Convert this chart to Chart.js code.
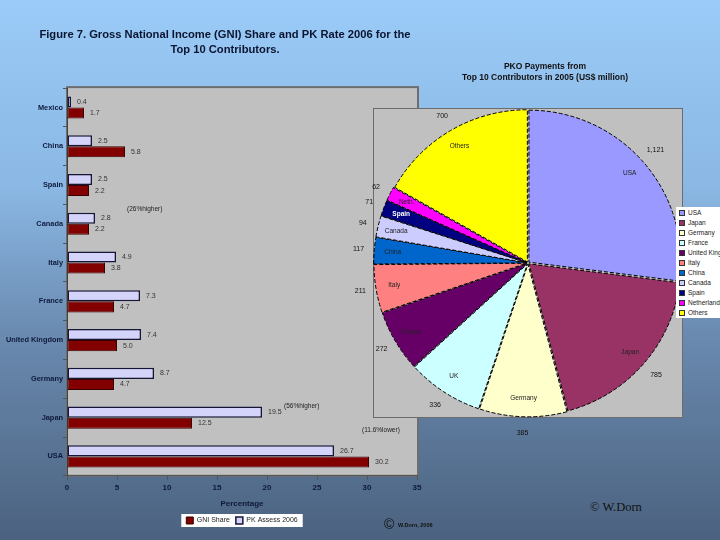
<!DOCTYPE html>
<html>
<head>
<meta charset="utf-8">
<script src="https://cdn.jsdelivr.net/npm/chart.js@4.4.1/dist/chart.umd.min.js"></script>
<style>
  html, body { margin: 0; padding: 0; }
  body {
    width: 720px; height: 540px; overflow: hidden; position: relative;
    background: linear-gradient(to bottom, #9bcbf8 0%, #8ab7e3 35%, #6a8ab0 62%, #4b627f 100%);
    font-family: 'Liberation Sans', Arial, sans-serif;
  }
  #barChart { position: absolute; left: 0; top: 0; }
  #pieBox {
    position: absolute; left: 373px; top: 108px; width: 308px; height: 308px;
    background: #c0c0c0; border: 1px solid #6c6c6c;
  }
  #pieChart { position: absolute; left: 353px; top: 98px; }
  #pieTitle {
    position: absolute; left: 445px; top: 61px; width: 200px;
    text-align: center; font-size: 8.5px; font-weight: bold; line-height: 10.5px; color: #111;
  }
  #pieLegend {
    position: absolute; left: 676px; top: 207px; width: 64px; height: 111px;
    background: #fff; font-size: 6.5px; color: #222;
  }
  #pieLegend div { position: absolute; left: 3px; white-space: nowrap; height: 10px; line-height: 10px; }
  #pieLegend span { display: inline-block; width: 4px; height: 4px; border: 1px solid #333; margin-right: 3px; vertical-align: middle; }
  .credit { position: absolute; color: #111; }
</style>
</head>
<body>
<canvas id="barChart" width="450" height="540"></canvas>
<div id="pieBox"></div>
<canvas id="pieChart" width="367" height="342"></canvas>
<div id="pieTitle">PKO Payments from<br>Top 10 Contributors in 2005 (US$ million)</div>
<div id="pieLegend"></div>
<div class="credit" style="left:590px; top:500px; font-family:'Liberation Serif','DejaVu Serif',serif; font-size:12.5px;">© W.Dorn</div>
<div class="credit" style="left:384px; top:516px; font-size:14px;">©</div>
<div class="credit" style="left:398px; top:522px; font-size:5.5px; font-weight:bold;">W.Dorn, 2006</div>

<script>
// bar chart data (percentages)
const categories = ['Mexico', 'China', 'Spain', 'Canada', 'Italy', 'France', 'United Kingdom', 'Germany', 'Japan', 'USA'];
const pkAssess2006 = [0.4, 2.5, 2.5, 2.8, 4.9, 7.3, 7.4, 8.7, 19.5, 26.7];
const gniShare = [1.7, 5.8, 2.2, 2.2, 3.8, 4.7, 5.0, 4.7, 12.5, 30.2];
const xTicks = [0, 5, 10, 15, 20, 25, 30, 35];

// notes next to the bars: [value, category index]
const noteTexts = ['(26%higher)', '(56%higher)', '(11.6%lower)'];
const noteAnchors = [[6.0, 2.62], [21.7, 7.7], [29.5, 8.33]];

// pie data (US$ million)
const pieLabels = ['USA', 'Japan', 'Germany', 'France', 'United Kingdom', 'Italy', 'China', 'Canada', 'Spain', 'Netherlands', 'Others'];
const pieTags = ['USA', 'Japan', 'Germany', 'UK', 'France', 'Italy', 'China', 'Canada', 'Spain', 'Neth.', 'Others'];
const piePayments = [1121, 785, 385, 336, 272, 211, 117, 94, 71, 62, 700];
const pieColors = ['#9999ff', '#993366', '#ffffcc', '#ccffff', '#660066', '#ff8080', '#0066cc', '#ccccff', '#000080', '#ff00ff', '#ffff00'];

Chart.defaults.font.family = "'Liberation Sans', Arial, sans-serif";

const barExtras = {
    id: 'barExtras',
    afterLayout(chart) {
        // the figure title sits centred over the whole left panel, not the canvas
        const t = chart.titleBlock;
        t.left = 33;
        t.right = 417;
        t.width = 384;
    },
    beforeDraw(chart) {
        const { ctx, chartArea: a } = chart;
        ctx.save();
        ctx.fillStyle = '#c0c0c0';
        ctx.fillRect(a.left, a.top, a.right - a.left, a.bottom - a.top);
        ctx.strokeStyle = '#6e6e6e';
        ctx.lineWidth = 2;
        ctx.strokeRect(a.left, a.top - 1, a.right - a.left + 1, a.bottom - a.top + 1);

        // white box behind the legend
        const boxes = chart.legend.legendHitBoxes;
        if (boxes && boxes.length) {
            const left = Math.min(...boxes.map(b => b.left)) - 5;
            const right = Math.max(...boxes.map(b => b.left + b.width)) + 5;
            const top = boxes[0].top - 3;
            ctx.fillStyle = '#ffffff';
            ctx.fillRect(left, top, right - left, boxes[0].height + 6);
        }
        ctx.restore();
    },
    afterDatasetsDraw(chart) {
        const { ctx, scales } = chart;
        ctx.save();
        ctx.font = "7px 'Liberation Sans', Arial, sans-serif";
        ctx.fillStyle = '#333';
        ctx.textBaseline = 'middle';
        chart.data.datasets.forEach((ds, i) => {
            chart.getDatasetMeta(i).data.forEach((bar, j) => {
                ctx.fillText(ds.data[j].toFixed(1), bar.x + 6, bar.y);
            });
        });
        // annotations
        ctx.textAlign = 'left';
        ctx.fillStyle = '#222';
        ctx.font = "6.5px 'Liberation Sans', Arial, sans-serif";
        noteTexts.forEach((t, i) => {
            ctx.fillText(t, scales.x.getPixelForValue(noteAnchors[i][0]), scales.y.getPixelForValue(noteAnchors[i][1]));
        });
        ctx.restore();
    }
};

new Chart(document.getElementById('barChart'), {
    type: 'bar',
    data: {
        labels: categories,
        datasets: [
            {
                label: 'PK Assess 2006',
                data: pkAssess2006,
                backgroundColor: '#d4d4fa',
                borderColor: '#161638',
                borderWidth: 1.5,
                borderSkipped: false,
                categoryPercentage: 0.57,
                barPercentage: 1
            },
            {
                label: 'GNI Share',
                data: gniShare,
                backgroundColor: '#820000',
                borderColor: '#3a0000',
                borderWidth: 1,
                borderSkipped: false,
                categoryPercentage: 0.57,
                barPercentage: 1
            }
        ]
    },
    options: {
        indexAxis: 'y',
        responsive: false,
        animation: false,
        devicePixelRatio: 1,
        layout: { padding: { left: 0, right: 33, top: 0, bottom: 6 } },
        plugins: {
            title: {
                display: true,
                text: ['Figure 7. Gross National Income (GNI) Share and PK Rate 2006 for the', 'Top 10 Contributors.'],
                color: '#0b1530',
                font: { size: 11.2, weight: 'bold', lineHeight: 1.3 },
                padding: { top: 28, bottom: 31 }
            },
            legend: {
                position: 'bottom',
                fullSize: false,
                reverse: true,
                labels: {
                    boxWidth: 7,
                    boxHeight: 7,
                    padding: 6,
                    color: '#222',
                    font: { size: 7 }
                }
            },
            tooltip: { enabled: false }
        },
        scales: {
            x: {
                min: 0,
                max: 35,
                afterBuildTicks: scale => { scale.ticks = xTicks.map(v => ({ value: v })); },
                grid: { drawOnChartArea: false, tickLength: 4, color: '#555' },
                border: { color: '#555' },
                ticks: { color: '#101838', font: { size: 8, weight: 'bold' }, padding: 3 },
                title: {
                    display: true,
                    text: 'Percentage',
                    color: '#101838',
                    font: { size: 8, weight: 'bold' },
                    padding: { top: 4, bottom: 2 }
                }
            },
            y: {
                grid: { drawOnChartArea: false, tickLength: 4, color: '#555' },
                border: { color: '#444' },
                ticks: { color: '#0e1a3c', font: { size: 7.4, weight: 'bold' }, padding: 0 },
                afterFit(scale) { scale.width = 67; }
            }
        }
    },
    plugins: [barExtras]
});

const pieText = {
    id: 'pieText',
    afterDatasetsDraw(chart) {
        const { ctx } = chart;
        const meta = chart.getDatasetMeta(0);
        ctx.save();
        ctx.textAlign = 'center';
        ctx.textBaseline = 'middle';
        meta.data.forEach((arc, i) => {
            const p = arc.getProps(['x', 'y', 'startAngle', 'endAngle', 'outerRadius'], true);
            const mid = (p.startAngle + p.endAngle) / 2;
            const off = arc.options.offset || 0;
            const cx = p.x + Math.cos(mid) * off;
            const cy = p.y + Math.sin(mid) * off;
            const rIn = p.outerRadius * 0.86;
            ctx.font = (pieTags[i] === 'Spain' ? 'bold ' : '') + "6.5px 'Liberation Sans', Arial, sans-serif";
            ctx.fillStyle = pieTags[i] === 'Spain' ? '#fff' : '#222';
            ctx.fillText(pieTags[i], cx + Math.cos(mid) * rIn, cy + Math.sin(mid) * rIn);
            const rOut = p.outerRadius + 13;
            ctx.font = "7px 'Liberation Sans', Arial, sans-serif";
            ctx.fillStyle = '#111';
            ctx.fillText(piePayments[i].toLocaleString('en-US'), cx + Math.cos(mid) * rOut, cy + Math.sin(mid) * rOut);
        });
        ctx.restore();
    }
};

new Chart(document.getElementById('pieChart'), {
    type: 'pie',
    data: {
        labels: pieLabels,
        datasets: [{
            data: piePayments,
            backgroundColor: pieColors,
            borderColor: '#000',
            borderWidth: 1,
            borderDash: [4, 2],
            offset: 5
        }]
    },
    options: {
        responsive: false,
        animation: false,
        devicePixelRatio: 1,
        layout: { padding: { left: 20, top: 10, right: 37, bottom: 22 } },
        plugins: { legend: { display: false }, tooltip: { enabled: false } }
    },
    plugins: [pieText]
});

// pie legend, cut off by the page edge as in the original
const legendBox = document.getElementById('pieLegend');
pieLabels.forEach((name, i) => {
    const row = document.createElement('div');
    row.style.top = (1 + i * 10) + 'px';
    row.innerHTML = '<span style="background:' + pieColors[i] + '"></span>' + name;
    legendBox.appendChild(row);
});
</script>
</body>
</html>
